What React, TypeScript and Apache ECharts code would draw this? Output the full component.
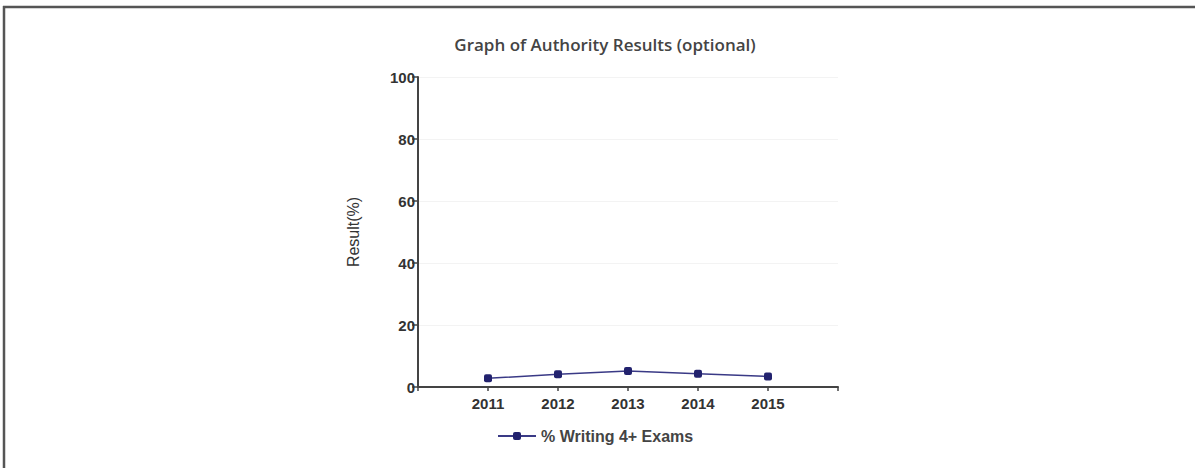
import React, { useEffect, useRef } from "react";
import * as echarts from "echarts";

const years = [2011, 2012, 2013, 2014, 2015];
const writing4Plus = [2.8, 4.1, 5.2, 4.3, 3.4];
const yTicks = [0, 20, 40, 60, 80, 100];
const seriesName = "% Writing 4+ Exams";
const titleText = "Graph of Authority Results (optional)";
const yAxisName = "Result(%)";

export default function App() {
  const ref = useRef<HTMLDivElement>(null);
  useEffect(() => {
    if (!ref.current) return;
    const chart = echarts.init(ref.current, undefined, { renderer: "svg" });
    chart.setOption({
      animation: false,
      backgroundColor: "#ffffff",
      title: {
        text: titleText,
        left: 600,
        textAlign: "center",
        top: 31,
        textStyle: { fontFamily: "Open Sans", fontSize: 17, fontWeight: 600, color: "#444" },
      },
      legend: {
        left: 492,
        top: 423,
        itemWidth: 38,
        itemHeight: 10,
        itemGap: 6,
        textStyle: { fontFamily: "Liberation Sans", fontSize: 16, fontWeight: "bold", color: "#444" },
        data: [seriesName],
      },
      grid: { left: 418, right: 357, top: 77, bottom: 81, containLabel: false },
      xAxis: {
        type: "value",
        min: 2010,
        max: 2016,
        interval: 1,
        axisLine: { lineStyle: { color: "#444", width: 2 } },
        axisTick: { show: true, length: 4, lineStyle: { color: "#444", width: 1.5 } },
        axisLabel: {
          margin: 9,
          fontFamily: "Liberation Sans",
          fontSize: 15,
          fontWeight: "bold",
          color: "#333",
          formatter: (v: number) => (years.indexOf(v) >= 0 ? String(v) : ""),
        },
        splitLine: { show: false },
      },
      yAxis: {
        type: "value",
        min: yTicks[0],
        max: yTicks[yTicks.length - 1],
        interval: 20,
        name: yAxisName,
        nameLocation: "middle",
        nameGap: 57,
        nameRotate: 90,
        nameTextStyle: { fontFamily: "Liberation Sans", fontSize: 16, color: "#333" },
        axisLine: { show: true, lineStyle: { color: "#444", width: 2 } },
        axisTick: { show: true, length: 6, lineStyle: { color: "#444", width: 1.5 } },
        axisLabel: { margin: 3, fontFamily: "Liberation Sans", fontSize: 15, fontWeight: "bold", color: "#333" },
        splitLine: { show: true, lineStyle: { color: "#f3f3f3", width: 1 } },
      },
      series: [
        {
          name: seriesName,
          type: "line",
          data: years.map((y, i) => [y, writing4Plus[i]]),
          symbol: "roundRect",
          symbolSize: 8,
          lineStyle: { color: "#3a3a86", width: 1.5 },
          itemStyle: { color: "#22226e" },
        },
      ],
      graphic: [
        { type: "line", shape: { x1: 3, y1: 7, x2: 1195, y2: 7 }, style: { stroke: "#555", lineWidth: 2.5 } },
        { type: "line", shape: { x1: 4, y1: 6, x2: 4, y2: 468 }, style: { stroke: "#555", lineWidth: 2.5 } },
      ],
    });
    return () => chart.dispose();
  }, []);
  return (
    <div
      ref={ref}
      style={{ position: "fixed", left: 0, top: 0, width: 1195, height: 468 }}
    />
  );
}
